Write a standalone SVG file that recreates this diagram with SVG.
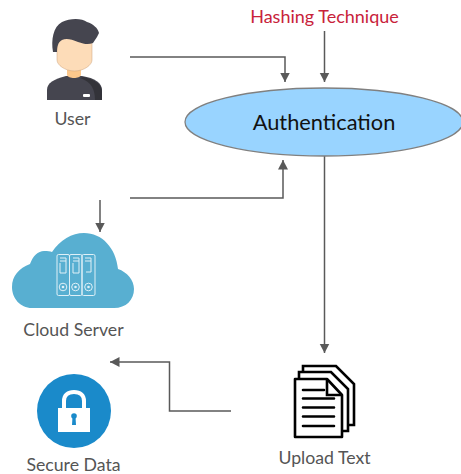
<svg xmlns="http://www.w3.org/2000/svg" width="461" height="474" viewBox="0 0 461 474">
<style>
text{font-family:"Lato","Open Sans","Liberation Sans",sans-serif;text-anchor:middle}
.lb{font-size:17.700px;fill:#555}
.cn{fill:none;stroke:#595959;stroke-width:1.500}
.w{fill:none;stroke:#dff0f7;stroke-width:1}
.dl{stroke:#000;stroke-width:2.600;fill:none}
</style>
<defs>
<marker id="a" markerUnits="userSpaceOnUse" markerWidth="11" markerHeight="11" refX="9.500" refY="5" orient="auto"><path d="M0 0L9.500 5L0 10Z" fill="#595959"/></marker>
</defs>
<rect width="461" height="474" fill="#fff"/>
<g id="connectors">
<path class="cn" marker-end="url(#a)" d="M130 57H285V82"/>
<path class="cn" marker-end="url(#a)" d="M324.500 31V82"/>
<path class="cn" marker-end="url(#a)" d="M130 198H283V160"/>
<path class="cn" marker-end="url(#a)" d="M100 200V232"/>
<path class="cn" marker-end="url(#a)" d="M324.500 156V353"/>
<path class="cn" marker-end="url(#a)" d="M231 411H169.500V362H110"/>
</g>
<g id="user">
<path d="M47 100V90C47 83 54 79 66 76H82C95 78 102 83 102 90V100Z" fill="#45454f"/>
<path d="M84 77C95 80 102 84 102 92V100H95C95 90 92 82 80 78Z" fill="#333339"/>
<path d="M67 70H81V75C80 79 68 79 67 75Z" fill="#fcc88c"/>
<path d="M57 38H92V60C92 65 84 71 74.500 71C65 71 57 65 57 60Z" fill="#fddcb8" stroke="#caa27c" stroke-width=".5"/>
<path d="M57 52H53C51 40 53 27 62 22C70 18 82 18 87 22C93 24 98 28 99 33L97 37L93 43C88 45 84 44 78 42C71 39 66 38 62 40C58 42 57 47 57 52Z" fill="#45454f"/>
<rect x="83" y="94" width="7" height="3" rx="1" fill="#fff"/>
<text class="lb" x="72.500" y="125">User</text>
</g>
<g id="hashing"><text x="324.500" y="23" font-size="18" fill="#c8223a">Hashing Technique</text></g>
<g id="authentication">
<ellipse cx="324" cy="122" rx="139" ry="34" fill="#99d4ff" stroke="#808080" stroke-width="1.300"/>
<text x="324" y="129.500" font-size="21.800" fill="#111">Authentication</text>
</g>
<g id="cloud">
<path d="M32 308C20 308 12 298 12 287C12 276 19 268 30 264C33 256 38 251 44 251C48 251 50 251 52 252C60 240 72 233 84 233C102 233 116 248 118 269C127 272 134 280 134 289C134 300 126 308 114 308Z" fill="#58afd1"/>
<rect class="w" x="57" y="254.500" width="12.500" height="41" rx="1.500"/>
<rect class="w" x="69.500" y="254.500" width="12.500" height="41" rx="1.500"/>
<rect class="w" x="82" y="254.500" width="13" height="41" rx="1.500"/>
<path class="w" d="M60 258H66M60 261H66M73 258H79M73 261H79M85 258H91M85 261H91M60 263V273H66V258M73 263V273H79V258M91 258V272H86"/>
<circle class="w" cx="63" cy="287" r="3.800"/><circle class="w" cx="75.500" cy="287" r="3.800"/><circle class="w" cx="88.500" cy="287" r="3.800"/>
<circle cx="63" cy="287" r="1.300" fill="#dff0f7"/><circle cx="75.500" cy="287" r="1.300" fill="#dff0f7"/><circle cx="88.500" cy="287" r="1.300" fill="#dff0f7"/>
<text class="lb" x="73.500" y="336">Cloud Server</text>
</g>
<g id="secure-data">
<circle cx="74" cy="411" r="37" fill="#1a8aca"/>
<path d="M64 408V401C64 395 68 392 74 392C80 392 84 395 84 401V408" fill="none" stroke="#fff" stroke-width="4"/>
<rect x="58" y="408" width="32" height="24" fill="#fff"/>
<circle cx="74" cy="416" r="2.800" fill="#1a8aca"/>
<path d="M72.500 417H75.500L76 425H72Z" fill="#1a8aca"/>
<text class="lb" x="73.500" y="470.500">Secure Data</text>
</g>
<g id="upload-text">
<path class="dl" d="M303 372V366H336L354 384V425H348"/>
<path class="dl" d="M299 378V372H331L348 389V431H342"/>
<path d="M295 379H327L342 395V437H295Z" fill="#fff" stroke="#000" stroke-width="2.600" stroke-linejoin="round"/>
<path class="dl" d="M327 379V395H342"/>
<path class="dl" d="M303 390H324M303 398.500H334M303 407.500H334M303 416.500H334M303 426H334" stroke-linecap="round"/>
<text class="lb" x="324.500" y="464">Upload Text</text>
</g>
</svg>
